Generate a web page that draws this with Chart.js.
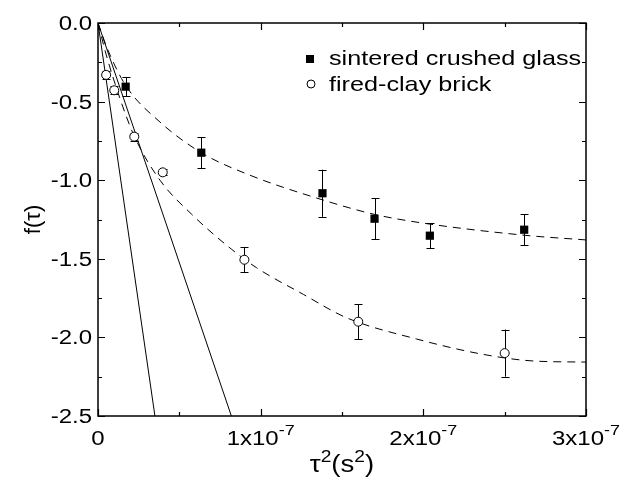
<!DOCTYPE html>
<html>
<head>
<meta charset="utf-8">
<script src="https://cdn.jsdelivr.net/npm/chart.js@4"></script>
<style>
  html, body { margin: 0; padding: 0; background: #fff; }
  #wrap { width: 626px; height: 481px; }
</style>
</head>
<body>
<div id="wrap"><canvas id="myChart" width="626" height="481"></canvas></div>
<script>
// measured points (x in s^2, y = f(tau))
var glassX = [1.7e-8, 6.35e-8, 1.38e-7, 1.70e-7, 2.04e-7, 2.62e-7];
var glassY = [-0.405, -0.825, -1.083, -1.245, -1.353, -1.315];
var glassErr = [0.06, 0.10, 0.15, 0.13, 0.08, 0.10];

var brickX = [5e-9, 1.0e-8, 2.23e-8, 3.98e-8, 9.0e-8, 1.6e-7, 2.5e-7];
var brickY = [-0.33, -0.428, -0.723, -0.95, -1.506, -1.90, -2.10];
var brickErr = [0.025, 0.025, 0.025, 0.02, 0.08, 0.11, 0.15];

// dashed fit curves
var fitGlassX = [0, 6e-9, 1.72e-8, 3.81e-8, 6.35e-8, 9.14e-8, 1.383e-7, 1.698e-7, 1.979e-7, 2.62e-7, 3.0e-7];
var fitGlassY = [0, -0.17, -0.40, -0.63, -0.825, -0.96, -1.126, -1.217, -1.27, -1.35, -1.38];

var fitBrickX = [0, 5e-9, 1.35e-8, 2.23e-8, 3.81e-8, 5.76e-8, 8.22e-8, 9.75e-8, 1.262e-7, 1.528e-7, 1.958e-7, 2.368e-7, 2.675e-7, 3.0e-7];
var fitBrickY = [0, -0.2, -0.48, -0.72, -1.0, -1.217, -1.44, -1.557, -1.726, -1.875, -2.01, -2.108, -2.15, -2.157];

// initial-slope straight lines
var slopeAX = [0, 3.5e-8];
var slopeAY = [0, -2.5];
var slopeBX = [0, 8.2e-8];
var slopeBY = [0, -2.5];

var xMajor = [0, 1e-7, 2e-7, 3e-7];
var xMajorLabels = [["0", ""], ["1x10", "-7"], ["2x10", "-7"], ["3x10", "-7"]];
var xMinor = [0.5e-7, 1.5e-7, 2.5e-7];
var yMajor = [0, -0.5, -1.0, -1.5, -2.0, -2.5];
var yMinor = [-0.25, -0.75, -1.25, -1.75, -2.25];

var legendNames = ["sintered crushed glass", "fired-clay brick"];

function toPoints(xs, ys) {
    let pts = [];
    for (let i = 0; i < xs.length; i++) {
        pts.push({ x: xs[i], y: ys[i] });
    }
    return pts;
}

var FONT = "Liberation Sans, Arial, sans-serif";
var STRETCH = 1.2; // the original lettering is a bit wide

// text drawn with a horizontal stretch, x is the left edge
function wideText(ctx, str, x, y, size) {
    ctx.save();
    ctx.font = size + "px " + FONT;
    ctx.textAlign = "left";
    ctx.translate(x, y);
    ctx.scale(STRETCH, 1);
    ctx.fillText(str, 0, 0);
    ctx.restore();
}

function wideWidth(ctx, str, size) {
    ctx.font = size + "px " + FONT;
    return ctx.measureText(str).width * STRETCH;
}

var extras = {
    id: "extras",
    beforeDatasetsDraw: function (chart) {
        // error bars under the markers
        let ctx = chart.ctx;
        let xs = chart.scales.x, ys = chart.scales.y;
        ctx.save();
        ctx.strokeStyle = "#000";
        ctx.lineWidth = 1;
        let sets = [[glassX, glassY, glassErr], [brickX, brickY, brickErr]];
        for (let s = 0; s < sets.length; s++) {
            for (let i = 0; i < sets[s][0].length; i++) {
                let px = Math.round(xs.getPixelForValue(sets[s][0][i])) + 0.5;
                let top = ys.getPixelForValue(sets[s][1][i] + sets[s][2][i]);
                let bot = ys.getPixelForValue(sets[s][1][i] - sets[s][2][i]);
                ctx.beginPath();
                ctx.moveTo(px, top);
                ctx.lineTo(px, bot);
                ctx.moveTo(px - 4, Math.round(top) + 0.5);
                ctx.lineTo(px + 4, Math.round(top) + 0.5);
                ctx.moveTo(px - 4, Math.round(bot) + 0.5);
                ctx.lineTo(px + 4, Math.round(bot) + 0.5);
                ctx.stroke();
            }
        }
        ctx.restore();
    },
    afterDraw: function (chart) {
        let ctx = chart.ctx;
        let a = chart.chartArea;
        let xs = chart.scales.x, ys = chart.scales.y;
        ctx.save();
        ctx.strokeStyle = "#000";
        ctx.fillStyle = "#000";
        ctx.lineWidth = 1.5;
        ctx.strokeRect(a.left, a.top, a.right - a.left, a.bottom - a.top);

        // ticks, all pointing in
        ctx.lineWidth = 1.2;
        ctx.beginPath();
        let drawX = function (v, len) {
            let px = Math.round(xs.getPixelForValue(v)) + 0.5;
            ctx.moveTo(px, a.bottom); ctx.lineTo(px, a.bottom - len);
            ctx.moveTo(px, a.top); ctx.lineTo(px, a.top + len);
        };
        let drawY = function (v, len) {
            let py = Math.round(ys.getPixelForValue(v)) + 0.5;
            ctx.moveTo(a.left, py); ctx.lineTo(a.left + len, py);
            ctx.moveTo(a.right, py); ctx.lineTo(a.right - len, py);
        };
        xMajor.forEach(function (v) { drawX(v, 7); });
        xMinor.forEach(function (v) { drawX(v, 4); });
        yMajor.forEach(function (v) { drawY(v, 7); });
        yMinor.forEach(function (v) { drawY(v, 4); });
        ctx.stroke();

        ctx.textBaseline = "alphabetic";

        // y tick labels, right aligned
        yMajor.forEach(function (v) {
            let s = v.toFixed(1);
            let w = wideWidth(ctx, s, 20);
            wideText(ctx, s, a.left - 6 - w, ys.getPixelForValue(v) + 7, 20);
        });

        // x tick labels with superscript exponent
        for (let i = 0; i < xMajor.length; i++) {
            let base = xMajorLabels[i][0], sup = xMajorLabels[i][1];
            let wb = wideWidth(ctx, base, 20);
            let ws = wideWidth(ctx, sup, 15);
            let px = xs.getPixelForValue(xMajor[i]);
            let x0 = px - (wb + ws) / 2;
            wideText(ctx, base, x0, a.bottom + 29, 20);
            if (sup) wideText(ctx, sup, x0 + wb, a.bottom + 19, 15);
        }

        // x title: tau^2(s^2)
        let cx = (a.left + a.right) / 2;
        let parts = [["\u03C4", 23, 0], ["2", 16, -10], ["(s", 23, 0], ["2", 16, -10], [")", 23, 0]];
        let total = 0;
        parts.forEach(function (p) { total += wideWidth(ctx, p[0], p[1]); });
        let tx = cx - total / 2;
        parts.forEach(function (p) {
            wideText(ctx, p[0], tx, a.bottom + 56 + p[2], p[1]);
            tx += wideWidth(ctx, p[0], p[1]);
        });

        // y title
        ctx.save();
        ctx.translate(40, (a.top + a.bottom) / 2);
        ctx.rotate(-Math.PI / 2);
        ctx.textAlign = "center";
        ctx.font = "22px " + FONT;
        ctx.fillText("f(\u03C4)", 0, 0);
        ctx.restore();

        // legend
        ctx.fillRect(306, 55, 8, 8);
        ctx.lineWidth = 1;
        ctx.beginPath();
        ctx.arc(311, 84, 4, 0, Math.PI * 2);
        ctx.fillStyle = "#fff";
        ctx.fill();
        ctx.stroke();
        ctx.fillStyle = "#000";
        wideText(ctx, legendNames[0], 329, 65, 21);
        wideText(ctx, legendNames[1], 329, 91, 21);
        ctx.restore();
    }
};

var ctx = document.getElementById("myChart").getContext("2d");
var myChart = new Chart(ctx, {
    type: "scatter",
    data: {
        datasets: [
            {
                label: legendNames[0],
                data: toPoints(glassX, glassY),
                pointStyle: "rect",
                pointRadius: 5.8,
                backgroundColor: "#000",
                borderColor: "#000",
                borderWidth: 0
            },
            {
                label: legendNames[1],
                data: toPoints(brickX, brickY),
                pointStyle: "circle",
                pointRadius: 4.5,
                backgroundColor: "#fff",
                borderColor: "#000",
                borderWidth: 1
            },
            {
                data: toPoints(fitGlassX, fitGlassY),
                showLine: true,
                pointRadius: 0,
                borderColor: "#000",
                borderWidth: 1,
                borderDash: [8, 6],
                cubicInterpolationMode: "monotone"
            },
            {
                data: toPoints(fitBrickX, fitBrickY),
                showLine: true,
                pointRadius: 0,
                borderColor: "#000",
                borderWidth: 1,
                borderDash: [8, 6],
                cubicInterpolationMode: "monotone"
            },
            {
                data: toPoints(slopeAX, slopeAY),
                showLine: true,
                pointRadius: 0,
                borderColor: "#000",
                borderWidth: 1
            },
            {
                data: toPoints(slopeBX, slopeBY),
                showLine: true,
                pointRadius: 0,
                borderColor: "#000",
                borderWidth: 1
            }
        ]
    },
    options: {
        responsive: false,
        animation: false,
        events: [],
        layout: { padding: { top: 23, right: 40, left: 0, bottom: 0 } },
        plugins: { legend: { display: false }, tooltip: { enabled: false } },
        scales: {
            x: {
                type: "linear",
                min: 0,
                max: 3e-7,
                ticks: { display: false },
                grid: { display: false },
                border: { display: false },
                afterFit: function (scale) { scale.height = 65; }
            },
            y: {
                type: "linear",
                min: -2.5,
                max: 0,
                ticks: { display: false },
                grid: { display: false },
                border: { display: false },
                afterFit: function (scale) { scale.width = 98; }
            }
        }
    },
    plugins: [extras]
});
</script>
</body>
</html>
